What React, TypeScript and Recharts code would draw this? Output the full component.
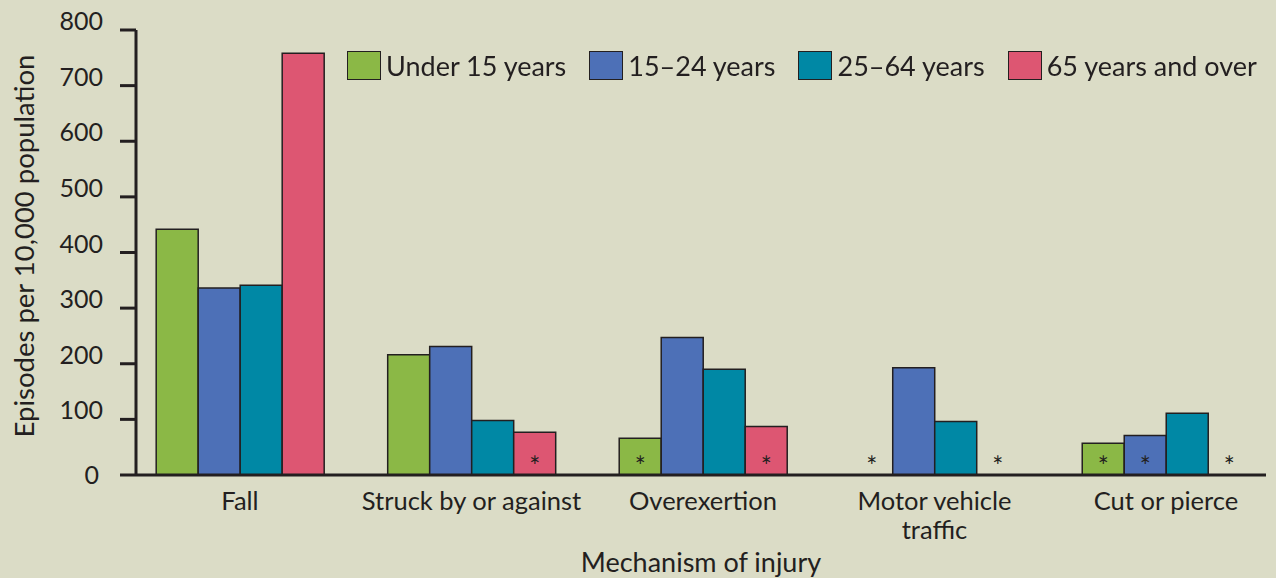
import React from "react";
import { BarChart, Bar, XAxis, YAxis, Legend, LabelList, Label, Rectangle } from "recharts";

// mechanism of injury, one entry per group
const categories = ["Fall", "Struck by or against", "Overexertion", "Motor vehicle traffic", "Cut or pierce"];
const categoryLines = [["Fall"], ["Struck by or against"], ["Overexertion"], ["Motor vehicle", "traffic"], ["Cut or pierce"]];

// episodes per 10,000 population, null = not shown
const under15 = [442, 216, 66, null, 57];
const age15to24 = [336, 231, 247, 193, 71];
const age25to64 = [341, 98, 190, 96, 111];
const age65plus = [758, 77, 87, null, null];

// * marks (unreliable estimate)
const under15Star = [false, false, true, true, true];
const age15to24Star = [false, false, false, false, true];
const age25to64Star = [false, false, false, false, false];
const age65plusStar = [false, true, true, true, true];

const yTicks = [0, 100, 200, 300, 400, 500, 600, 700, 800];

const series = [
    { key: "under15", name: "Under 15 years", color: "#8bb846", values: under15, stars: under15Star },
    { key: "age15to24", name: "15–24 years", color: "#4d70b7", values: age15to24, stars: age15to24Star },
    { key: "age25to64", name: "25–64 years", color: "#0088a5", values: age25to64, stars: age25to64Star },
    { key: "age65plus", name: "65 years and over", color: "#dd5672", values: age65plus, stars: age65plusStar },
];

const data = categories.map((name, i) => {
    const row: Record<string, string | number | boolean> = { pos: i, name };
    series.forEach(s => {
        row[s.key] = s.values[i] ?? 0;
        row[s.key + "Missing"] = s.values[i] == null;
    });
    return row;
});

const FONT = "Lato, 'Noto Sans', sans-serif";
const INK = "#231f20";
const X_DOMAIN: [number, number] = [-0.449, 4.432];

const XTick = (props: any) => {
    const { x, y, payload } = props;
    const lines = categoryLines[payload.value] || [];
    return (
        <g>
            {lines.map((l, i) => (
                <text key={i} x={x} y={y + 35 + i * 29} textAnchor="middle" fill={INK} fontSize={25.5} fontFamily={FONT}>
                    {l}
                </text>
            ))}
        </g>
    );
};

const YTick = (props: any) => {
    const { y, payload } = props;
    const isZero = payload.value === 0;
    return (
        <text x={isZero ? 99 : 103} y={y + (isZero ? 9 : 0)} textAnchor="end" fill={INK} fontSize={25} fontFamily={FONT}>
            {payload.value}
        </text>
    );
};

const starLabel = (stars: boolean[]) => (props: any) => {
    const { x, y, width, height, index } = props;
    if (!stars[index]) return null;
    return (
        <text x={x + width / 2} y={y + height + 1} textAnchor="middle" fill={INK} fontSize={26} fontFamily={FONT}>
            *
        </text>
    );
};

const barShape = (key: string) => (props: any) => {
    if (props.payload && props.payload[key + "Missing"]) return <g />;
    return <Rectangle {...props} />;
};

const LegendContent = () => (
    <div style={{ display: "flex", alignItems: "center", fontFamily: FONT, fontSize: 27, color: INK, whiteSpace: "nowrap" }}>
        {series.map(s => (
            <div key={s.key} style={{ display: "flex", alignItems: "center", marginRight: 23 }}>
                <span style={{ display: "inline-block", width: 32, height: 27, background: s.color, border: `1.5px solid ${INK}`, marginRight: 5 }} />
                <span>{s.name}</span>
            </div>
        ))}
    </div>
);

export default function App() {
    return (
        <div style={{ position: "fixed", left: 0, top: 0, width: 1276, height: 578, background: "#dbdcc6" }}>
            <BarChart
                width={1276}
                height={578}
                data={data}
                margin={{ top: 30, right: 10, bottom: 0, left: 0 }}
                barGap={0}
                barSize={42}
            >
                <XAxis
                    dataKey="pos"
                    type="number"
                    domain={X_DOMAIN}
                    ticks={[0, 1, 2, 3, 4]}
                    interval={0}
                    height={103}
                    tickLine={false}
                    tickSize={0}
                    tickMargin={0}
                    axisLine={{ stroke: INK, strokeWidth: 3 }}
                    tick={<XTick />}
                >
                    <Label
                        content={(p: any) => (
                            <text x={p.viewBox.x + p.viewBox.width / 2} y={572} textAnchor="middle" fill={INK} fontSize={27} fontFamily={FONT}>
                                Mechanism of injury
                            </text>
                        )}
                    />
                </XAxis>
                <XAxis
                    xAxisId="top"
                    orientation="top"
                    type="number"
                    dataKey="pos"
                    domain={X_DOMAIN}
                    height={0}
                    tick={false}
                    tickLine={false}
                    axisLine={{ stroke: INK, strokeWidth: 3 }}
                />
                <YAxis
                    width={136}
                    domain={[0, 800]}
                    ticks={yTicks}
                    interval={0}
                    tickSize={16}
                    axisLine={{ stroke: INK, strokeWidth: 3 }}
                    tickLine={{ stroke: INK, strokeWidth: 3 }}
                    tick={<YTick />}
                >
                    <Label
                        content={() => (
                            <text x={34} y={246} transform="rotate(-90 34 246)" textAnchor="middle" fill={INK} fontSize={27.5} fontFamily={FONT}>
                                Episodes per 10,000 population
                            </text>
                        )}
                    />
                </YAxis>
                <YAxis
                    yAxisId="right"
                    orientation="right"
                    domain={[0, 800]}
                    width={0}
                    tick={false}
                    tickLine={false}
                    axisLine={{ stroke: INK, strokeWidth: 3 }}
                />
                <Legend
                    layout="horizontal"
                    verticalAlign="middle"
                    align="center"
                    content={<LegendContent />}
                    wrapperStyle={{ top: 49, left: 347, width: "auto" }}
                />
                {series.map(s => (
                    <Bar
                        key={s.key}
                        dataKey={s.key}
                        name={s.name}
                        fill={s.color}
                        stroke={INK}
                        strokeWidth={1.5}
                        minPointSize={(v: any) => (v === 0 ? 1 : 0)}
                        shape={barShape(s.key)}
                        isAnimationActive={false}
                    >
                        <LabelList dataKey={s.key} content={starLabel(s.stars)} />
                    </Bar>
                ))}
            </BarChart>
        </div>
    );
}
